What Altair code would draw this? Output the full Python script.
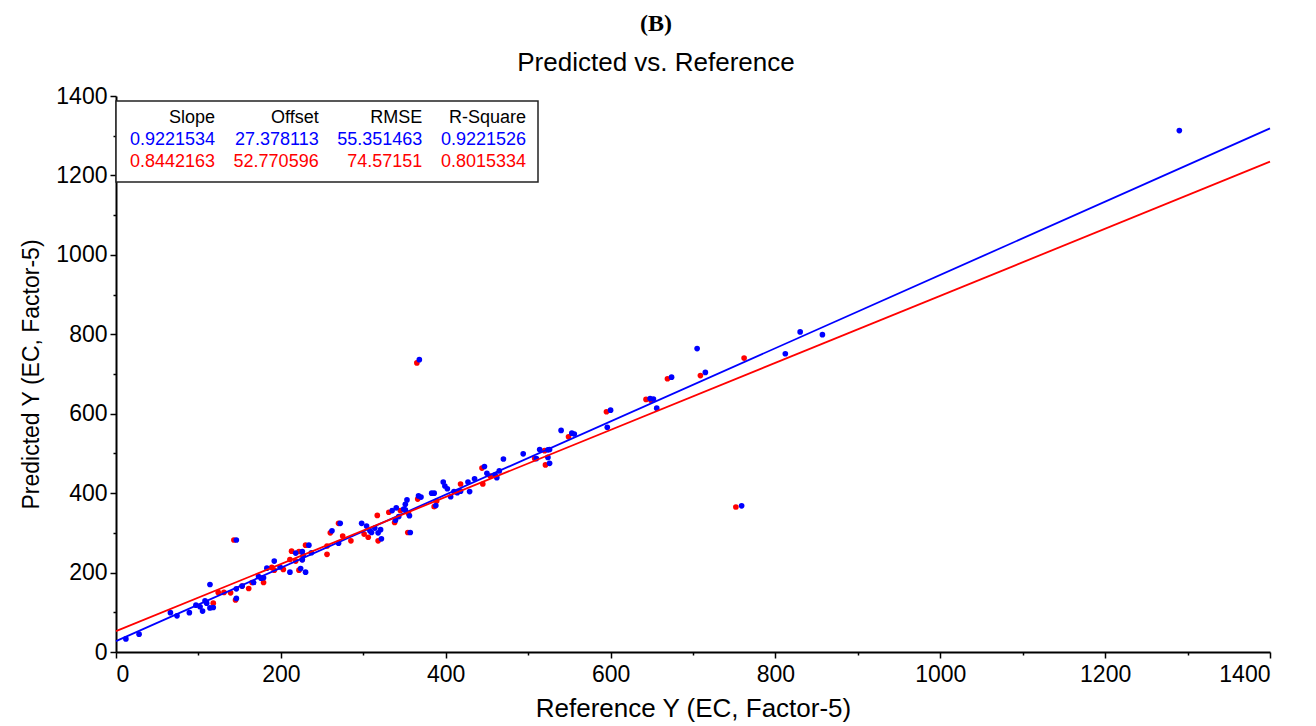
import altair as alt
import pandas as pd

# ---------------- data ----------------
blue_x = [12, 28, 66, 74, 89, 97, 102, 105, 108, 110, 114, 114, 118, 146, 146, 146, 153, 167, 173, 176,
          179, 183, 192, 199, 211, 218, 224, 226, 226, 227, 230, 234, 237, 262, 270, 272, 298, 304, 308, 310,
          314, 318, 321, 322, 335, 339, 340, 343, 349, 351, 353, 351, 356, 357, 367, 370, 368, 383, 386, 388,
          397, 399, 402, 406, 410, 414, 418, 427, 429, 435, 447, 450, 460, 462, 465, 470, 494, 510, 514, 524,
          526, 524, 526, 540, 553, 556, 596, 600, 648, 652, 656, 674, 705, 715, 759, 812, 830, 857, 1290]
blue_y = [33, 45, 99, 91, 99, 118, 114, 103, 129, 123, 170, 111, 112, 135, 159, 282, 166, 175, 190, 186,
          187, 211, 229, 214, 201, 249, 210, 232, 253, 243, 201, 269, 250, 305, 274, 324, 324, 317, 305, 301,
          312, 300, 308, 285, 356, 332, 363, 341, 360, 372, 383, 358, 343, 301, 393, 390, 736, 400, 400, 369,
          428, 418, 411, 391, 404, 401, 405, 428, 404, 436, 467, 450, 446, 439, 456, 486, 499, 487, 510, 509,
          510, 490, 475, 558, 551, 549, 566, 609, 638, 637, 614, 692, 764, 704, 368, 751, 806, 799, 1313]

red_x = [118, 124, 131, 139, 145, 143, 153, 161, 165, 179, 189, 192, 203, 211, 213, 218, 222, 222, 226, 230,
         256, 256, 260, 270, 275, 285, 301, 306, 317, 318, 331, 338, 345, 354, 355, 365, 366, 386, 389, 418,
         444, 445, 454, 508, 520, 521, 549, 595, 643, 649, 669, 709, 752, 762]
red_y = [123, 150, 150, 149, 131, 282, 166, 160, 175, 175, 213, 206, 208, 233, 254, 229, 253, 206, 233, 269,
         246, 267, 300, 324, 292, 280, 297, 289, 344, 280, 352, 326, 356, 301, 348, 728, 385, 366, 380, 423,
         463, 423, 443, 487, 507, 471, 542, 605, 636, 634, 688, 696, 365, 740]

series = ["Calibration", "Validation"]
series_colors = ["#0000ff", "#ff0000"]
slopes = [0.9221534, 0.8442163]
offsets = [27.378113, 52.770596]
line_x = [0, 1400]

stat_headers = ["Slope", "Offset", "RMSE", "R-Square"]
blue_stats = ["0.9221534", "27.378113", "55.351463", "0.9221526"]
red_stats = ["0.8442163", "52.770596", "74.57151", "0.8015334"]

# ---------------- tables ----------------
pts = pd.concat([
    pd.DataFrame({"x": red_x, "y": red_y, "s": series[1]}),
    pd.DataFrame({"x": blue_x, "y": blue_y, "s": series[0]}),
], ignore_index=True)

lines = pd.DataFrame([
    {"x": lx, "y": offsets[i] + slopes[i] * lx, "s": series[i]}
    for i in range(2) for lx in line_x
])

rows = []
for r, vals in enumerate([stat_headers, blue_stats, red_stats]):
    for c, v in enumerate(vals):
        rows.append({"col": c, "row": r, "txt": v})
table = pd.DataFrame(rows)

FONT = "Liberation Sans"
W, H = 1154, 556
color_scale = alt.Scale(domain=series, range=series_colors)

tick_cond = {"condition": {"test": "datum.value % 200 === 0", "value": 6}, "value": 3}
label_expr = "datum.value % 200 === 0 ? datum.label : ''"

xax = alt.Axis(
    values=list(range(0, 1401, 100)), format="d", labelExpr=label_expr, tickSize=tick_cond,
    grid=False, domainColor="black", domainWidth=2, tickColor="black", tickWidth=1.5,
    labelFont=FONT, labelFontSize=23, labelColor="black", labelPadding=5,
    title="Reference Y (EC, Factor-5)", titleFont=FONT, titleFontSize=26,
    titleFontWeight="normal", titleColor="black", titlePadding=9,
)
yax = alt.Axis(
    values=list(range(0, 1401, 100)), format="d", labelExpr=label_expr, tickSize=tick_cond,
    grid=False, domainColor="black", domainWidth=2, tickColor="black", tickWidth=1.5,
    labelFont=FONT, labelFontSize=23, labelColor="black", labelPadding=3,
    title="Predicted Y (EC, Factor-5)", titleFont=FONT, titleFontSize=23,
    titleFontWeight="normal", titleColor="black", titlePadding=12,
)

xs = alt.Scale(domain=[0, 1400], nice=False, zero=False)
ys = alt.Scale(domain=[0, 1400], nice=False, zero=False)

dummy = pd.DataFrame({"k": [0]})

points = alt.Chart(pts).mark_circle(size=32, opacity=1).encode(
    x=alt.X("x:Q", scale=xs, axis=xax),
    y=alt.Y("y:Q", scale=ys, axis=yax),
    color=alt.Color("s:N", scale=color_scale, legend=None),
)

fit = alt.Chart(lines).mark_line(strokeWidth=1.8).encode(
    x=alt.X("x:Q", scale=xs, axis=xax),
    y=alt.Y("y:Q", scale=ys, axis=yax),
    color=alt.Color("s:N", scale=color_scale, legend=None),
    detail="s:N",
)

box = alt.Chart(dummy).mark_rect(
    fill="white", stroke="#222222", strokeWidth=1.5
).encode(x=alt.value(0), x2=alt.value(422), y=alt.value(5), y2=alt.value(86))

# stats table inside the box: pixel placement computed from column / row index
txt = alt.Chart(table).mark_text(
    align="right", baseline="middle", font=FONT, fontSize=18
).transform_calculate(
    px="99 + datum.col * 103.67",
    py="22 + datum.row * 22",
    clr="datum.row == 0 ? '#000000' : (datum.row == 1 ? '#0000ff' : '#ff0000')",
).encode(
    x=alt.X("px:Q", scale=None),
    y=alt.Y("py:Q", scale=None),
    color=alt.Color("clr:N", scale=None),
    text="txt:N",
)

chart = alt.layer(points, fit, box, txt).properties(
    width=W, height=H,
    autosize=alt.AutoSizeParams(type="none"),
    padding={"left": 108, "top": 88, "right": 30, "bottom": 72},
    title=alt.TitleParams(
        text="(B)", subtitle="Predicted vs. Reference",
        font="Liberation Serif", fontSize=24, fontWeight="bold", color="black",
        subtitleFont=FONT, subtitleFontSize=26, subtitleColor="black",
        subtitlePadding=14, offset=9, anchor="middle", dx=-37,
    ),
).configure(
    background="white",
    style={"cell": {"stroke": "transparent", "strokeWidth": 0}},
).configure_view(stroke="transparent", strokeWidth=0, strokeOpacity=0)

chart.save("out.html", embed_options={"renderer": "svg", "actions": False})
